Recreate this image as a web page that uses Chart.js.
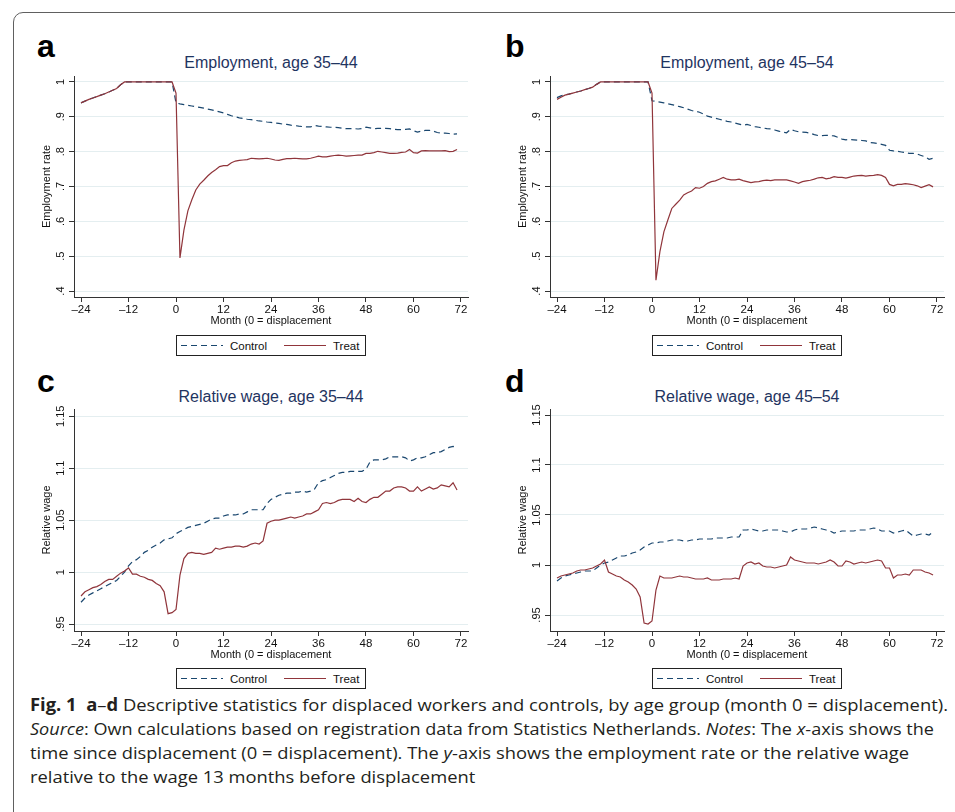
<!DOCTYPE html>
<html>
<head>
<meta charset="utf-8">
<title>Displaced workers and controls</title>
<script src="https://cdn.jsdelivr.net/npm/chart.js"></script>
<style>
  body { margin: 0; width: 955px; height: 812px; overflow: hidden; background: #fff; position: relative;
         font-family: 'Liberation Sans', Arial, sans-serif; }
  #frame { position: absolute; left: 13px; top: 12px; width: 1000px; height: 900px;
           border: 1.5px solid #606060; border-radius: 10px; }
  .letter { position: absolute; font: bold 32px 'Liberation Sans', Arial, sans-serif; line-height: 1; color: #000; }
  .ptitle { position: absolute; width: 394px; text-align: center; font-size: 16px; line-height: 1; color: #1f3461; }
  canvas { position: absolute; }
  .legend { position: absolute; }
  #caption { position: absolute; left: 30px; top: 693px; font-family: 'Open Sans', 'Noto Sans', sans-serif;
             font-size: 17px; line-height: 24px; color: #231f20; white-space: nowrap; }
  #caption div { transform-origin: left center; width: max-content; }
</style>
</head>
<body>
<div id="frame"></div>

<div class="letter" style="left:37px;top:30px">a</div>
<div class="letter" style="left:505px;top:30px">b</div>
<div class="letter" style="left:37px;top:365px">c</div>
<div class="letter" style="left:505px;top:365px">d</div>

<div class="ptitle" style="left:74px;top:55px">Employment, age 35–44</div>
<div class="ptitle" style="left:550px;top:55px">Employment, age 45–54</div>
<div class="ptitle" style="left:74px;top:389px">Relative wage, age 35–44</div>
<div class="ptitle" style="left:550px;top:389px">Relative wage, age 45–54</div>

<canvas id="chartA" width="455" height="260" style="left:20px;top:70px"></canvas>
<canvas id="chartB" width="455" height="260" style="left:496px;top:70px"></canvas>
<canvas id="chartC" width="455" height="261" style="left:20px;top:403px"></canvas>
<canvas id="chartD" width="455" height="261" style="left:496px;top:403px"></canvas>

<div id="caption">
  <div><b>Fig. 1</b>&nbsp; <b>a</b>–<b>d</b> Descriptive statistics for displaced workers and controls, by age group (month 0 = displacement).</div>
  <div><i>Source</i>: Own calculations based on registration data from Statistics Netherlands. <i>Notes</i>: The <i>x</i>-axis shows the</div>
  <div>time since displacement (0 = displacement). The <i>y</i>-axis shows the employment rate or the relative wage</div>
  <div>relative to the wage 13 months before displacement</div>
</div>

<script>
// months relative to displacement
const months = [
  -24,-23,-22,-21,-20,-19,-18,-17,-16,-15,-14,-13,-12,-11,-10,-9,-8,-7,-6,-5,-4,-3,-2,-1,
  0,1,2,3,4,5,6,7,8,9,10,11,12,13,14,15,16,17,18,19,20,21,22,23,
  24,25,26,27,28,29,30,31,32,33,34,35,36,37,38,39,40,41,42,43,44,45,46,47,
  48,49,50,51,52,53,54,55,56,57,58,59,60,61,62,63,64,65,66,67,68,69,70,71
];

const xTicks = [-24, -12, 0, 12, 24, 36, 48, 60, 72];
const xTickLabels = ['–24', '–12', '0', '12', '24', '36', '48', '60', '72'];

const empTicks = [0.4, 0.5, 0.6, 0.7, 0.8, 0.9, 1];
const empTickLabels = ['.4', '.5', '.6', '.7', '.8', '.9', '1'];
const wageTicks = [0.95, 1, 1.05, 1.1, 1.15];
const wageTickLabels = ['.95', '1', '1.05', '1.1', '1.15'];

// a: employment, age 35-44
const empControl3544 = [
  .940,.945,.950,.954,.958,.962,.966,.971,.976,.981,.992,1,1,1,1,1,1,1,1,1,1,1,1,1,
  .940,.937,.935,.933,.931,.929,.927,.925,.922,.920,.917,.914,
  .911,.907,.903,.900,.897,.895,.893,.892,.890,.888,.887,.885,
  .884,.882,.881,.879,.878,.876,.875,.873,.872,.871,.871,.875,
  .873,.872,.871,.870,.870,.869,.867,.866,.866,.866,.865,.866,
  .870,.868,.866,.867,.867,.867,.866,.864,.863,.863,.864,.865,
  .860,.856,.859,.861,.861,.859,.855,.853,.853,.852,.850,.851
];
const empTreat3544 = [
  .940,.945,.950,.954,.958,.962,.966,.971,.976,.981,.992,1,1,1,1,1,1,1,1,1,1,1,1,1,
  .968,.495,.575,.630,.662,.690,.707,.718,.730,.740,.748,.757,
  .760,.760,.768,.773,.775,.776,.777,.781,.780,.779,.780,.781,
  .779,.776,.775,.778,.780,.780,.781,.780,.779,.779,.781,.784,
  .787,.785,.785,.787,.789,.790,.789,.787,.788,.789,.790,.790,
  .795,.795,.797,.801,.799,.797,.795,.795,.796,.798,.799,.806,
  .797,.796,.802,.803,.802,.802,.802,.802,.803,.800,.801,.806
];

// b: employment, age 45-54
const empControl4554 = [
  .955,.960,.963,.965,.968,.971,.974,.978,.981,.985,.993,1,1,1,1,1,1,1,1,1,1,1,1,1,
  .946,.944,.942,.940,.937,.935,.932,.929,.926,.922,.918,.916,
  .913,.908,.902,.899,.896,.893,.890,.887,.885,.882,.879,.876,
  .878,.875,.872,.870,.868,.866,.865,.862,.859,.856,.854,.864,
  .860,.857,.856,.855,.853,.849,.846,.846,.847,.846,.845,.841,
  .836,.834,.835,.834,.833,.832,.831,.826,.825,.823,.821,.818,
  .804,.802,.801,.799,.797,.795,.795,.793,.789,.785,.778,.781
];
const empTreat4554 = [
  .950,.956,.962,.965,.968,.971,.974,.978,.981,.985,.993,1,1,1,1,1,1,1,1,1,1,1,1,1,
  .968,.431,.513,.570,.604,.637,.649,.661,.676,.682,.687,.697,
  .695,.700,.709,.714,.716,.721,.726,.721,.719,.719,.721,.717,
  .714,.711,.713,.714,.717,.718,.717,.719,.719,.719,.719,.716,
  .713,.709,.714,.716,.718,.721,.725,.726,.722,.724,.728,.726,
  .726,.724,.727,.730,.731,.732,.730,.731,.732,.734,.732,.726,
  .706,.702,.706,.706,.708,.707,.705,.702,.697,.701,.705,.699
];

// c: relative wage, age 35-44
const wageControl3544 = [
  .971,.975,.978,.980,.982,.984,.986,.988,.990,.992,.996,1.000,
  1.006,1.010,1.012,1.015,1.019,1.021,1.024,1.026,1.028,1.031,1.032,1.033,
  1.037,1.039,1.041,1.043,1.044,1.045,1.046,1.047,1.049,1.051,1.052,1.052,
  1.054,1.055,1.055,1.055,1.056,1.056,1.058,1.060,1.060,1.060,1.060,1.066,
  1.070,1.072,1.074,1.075,1.076,1.076,1.077,1.077,1.078,1.077,1.078,1.080,
  1.086,1.088,1.089,1.091,1.093,1.095,1.096,1.096,1.097,1.097,1.097,1.097,
  1.099,1.106,1.108,1.108,1.108,1.109,1.111,1.111,1.111,1.111,1.110,1.107,
  1.108,1.110,1.110,1.111,1.113,1.115,1.115,1.116,1.118,1.120,1.121,1.120
];
const wageTreat3544 = [
  .977,.981,.983,.985,.986,.988,.991,.993,.993,.996,.999,1.001,
  1.004,.998,.998,.996,.995,.993,.992,.989,.987,.981,.960,.961,
  .964,.997,1.013,1.018,1.019,1.018,1.018,1.017,1.018,1.019,1.023,1.022,
  1.023,1.024,1.024,1.025,1.025,1.024,1.025,1.027,1.028,1.027,1.030,1.047,
  1.049,1.050,1.050,1.051,1.052,1.053,1.052,1.053,1.054,1.056,1.056,1.058,
  1.060,1.066,1.067,1.066,1.067,1.069,1.070,1.070,1.070,1.068,1.071,1.068,
  1.067,1.070,1.072,1.072,1.075,1.078,1.078,1.081,1.082,1.082,1.081,1.078,
  1.078,1.082,1.078,1.080,1.082,1.080,1.081,1.084,1.083,1.082,1.086,1.079
];

// d: relative wage, age 45-54
const wageControl4554 = [
  .984,.987,.989,.990,.991,.992,.993,.994,.994,.994,.997,1.000,
  1.002,1.003,1.005,1.007,1.009,1.009,1.010,1.012,1.013,1.015,1.018,1.020,
  1.022,1.022,1.023,1.023,1.024,1.025,1.025,1.025,1.024,1.024,1.025,1.025,
  1.026,1.026,1.026,1.026,1.027,1.027,1.027,1.027,1.028,1.028,1.028,1.035,
  1.035,1.036,1.035,1.034,1.034,1.035,1.035,1.035,1.035,1.034,1.033,1.033,
  1.035,1.036,1.036,1.036,1.037,1.038,1.037,1.036,1.035,1.034,1.032,1.033,
  1.034,1.034,1.034,1.034,1.035,1.035,1.035,1.036,1.037,1.036,1.034,1.034,
  1.034,1.032,1.033,1.034,1.035,1.032,1.029,1.030,1.031,1.031,1.030,1.033
];
const wageTreat4554 = [
  .987,.989,.990,.991,.992,.994,.995,.995,.996,.997,.999,1.001,
  1.005,.993,.991,.989,.988,.985,.983,.980,.976,.968,.942,.941,
  .944,.975,.989,.987,.987,.987,.988,.989,.988,.988,.987,.986,
  .986,.986,.987,.985,.985,.985,.986,.986,.986,.987,.986,.999,
  1.002,1.003,1.001,1.002,.999,.998,.998,.997,.998,.999,1.000,1.008,
  1.005,1.004,1.003,1.002,1.002,1.002,1.001,1.002,1.003,1.005,1.003,.999,
  .999,1.004,1.003,1.001,1.002,1.003,1.002,1.003,1.004,1.005,1.004,.997,
  .997,.987,.990,.990,.991,.990,.995,.995,.995,.993,.992,.990
];

const NAVY = '#1a476f';
const MAROON = '#90353b';
const FONT = "'Liberation Sans', Arial, sans-serif";

Chart.defaults.font.family = FONT;
Chart.defaults.font.size = 11;
Chart.defaults.color = '#111';

// y labels are drawn vertical, the way Stata does it
const verticalYLabels = {
  id: 'verticalYLabels',
  afterDraw(chart, args, opts) {
    const s = chart.scales.y;
    const c = chart.ctx;
    c.save();
    c.font = '11px ' + FONT;
    c.fillStyle = '#111';
    c.textAlign = 'center';
    c.textBaseline = 'middle';
    s.ticks.forEach((t, i) => {
      c.save();
      c.translate(s.right - 13, s.getPixelForValue(t.value));
      c.rotate(-Math.PI / 2);
      c.fillText(opts.labels[i], 0, 0);
      c.restore();
    });
    c.restore();
  }
};

function makeChart(id, control, treat, yMin, yMax, yTicks, yLabels, yTitle) {
  const toPoints = vals => months.map((m, i) => ({ x: m, y: vals[i] }));
  return new Chart(document.getElementById(id), {
    type: 'line',
    data: {
      datasets: [
        { label: 'Control', data: toPoints(control), borderColor: NAVY, borderWidth: 1.2,
          borderDash: [6, 4], pointRadius: 0, tension: 0, order: 2 },
        { label: 'Treat', data: toPoints(treat), borderColor: MAROON, borderWidth: 1.2,
          pointRadius: 0, tension: 0, order: 1 }
      ]
    },
    plugins: [verticalYLabels],
    options: {
      responsive: false,
      animation: false,
      layout: { padding: { top: 6, right: 7, left: 0, bottom: 0 } },
      plugins: {
        legend: { display: false },
        tooltip: { enabled: false },
        verticalYLabels: { labels: yLabels }
      },
      scales: {
        x: {
          type: 'linear',
          min: -25.77,
          max: 73.77,
          afterBuildTicks: s => { s.ticks = xTicks.map(v => ({ value: v })); },
          afterFit: s => { s.height = 33; },
          ticks: { callback: (v, i) => xTickLabels[i], padding: 1, maxRotation: 0, autoSkip: false,
                   font: { size: 11.5 } },
          grid: { drawOnChartArea: false, tickLength: 5, tickColor: '#333' },
          border: { color: '#333', width: 1 },
          title: { display: true, text: 'Month (0 = displacement', padding: { top: 0, bottom: 2.4 } }
        },
        y: {
          type: 'linear',
          min: yMin,
          max: yMax,
          afterBuildTicks: s => { s.ticks = yTicks.map(v => ({ value: v })); },
          afterFit: s => { s.width = 54; },
          ticks: { display: false },
          grid: { color: '#e4eef0', lineWidth: 1, tickLength: 5, tickColor: '#333' },
          border: { color: '#333', width: 1 },
          title: { display: true, text: yTitle, padding: { top: 20.4, bottom: 0 } }
        }
      }
    }
  });
}

makeChart('chartA', empControl3544, empTreat3544, 0.383, 1.017, empTicks, empTickLabels, 'Employment rate');
makeChart('chartB', empControl4554, empTreat4554, 0.383, 1.017, empTicks, empTickLabels, 'Employment rate');
makeChart('chartC', wageControl3544, wageTreat3544, 0.9433, 1.157, wageTicks, wageTickLabels, 'Relative wage');
makeChart('chartD', wageControl4554, wageTreat4554, 0.934, 1.156, wageTicks, wageTickLabels, 'Relative wage');

// legend boxes below each panel
function addLegend(left, top) {
  const ns = 'http://www.w3.org/2000/svg';
  const svg = document.createElementNS(ns, 'svg');
  svg.setAttribute('class', 'legend');
  svg.setAttribute('width', 190);
  svg.setAttribute('height', 21);
  svg.style.left = left + 'px';
  svg.style.top = top + 'px';
  svg.innerHTML =
    '<rect x="0.5" y="0.5" width="189" height="20" fill="#fff" stroke="#222" stroke-width="1"/>' +
    '<line x1="5" y1="10.5" x2="47" y2="10.5" stroke="' + NAVY + '" stroke-width="1.2" stroke-dasharray="6,4"/>' +
    '<text x="54" y="14.5" font-family="Liberation Sans, Arial, sans-serif" font-size="11.5" fill="#111">Control</text>' +
    '<line x1="108" y1="10.5" x2="150" y2="10.5" stroke="' + MAROON + '" stroke-width="1.2"/>' +
    '<text x="157" y="14.5" font-family="Liberation Sans, Arial, sans-serif" font-size="11.5" fill="#111">Treat</text>';
  document.body.appendChild(svg);
}
addLegend(176, 335);
addLegend(652, 335);
addLegend(176, 668);
addLegend(652, 668);

// squeeze the caption lines to the widths of the printed (condensed) font
const capLines = document.querySelectorAll('#caption div');
const capWidths = [918, 904, 879];
let lastSqueeze = 1;
capLines.forEach((d, i) => {
  const w = d.getBoundingClientRect().width;
  const k = i < capWidths.length ? capWidths[i] / w : lastSqueeze;
  lastSqueeze = k;
  d.style.transform = 'scaleX(' + k + ')';
});
</script>
</body>
</html>
